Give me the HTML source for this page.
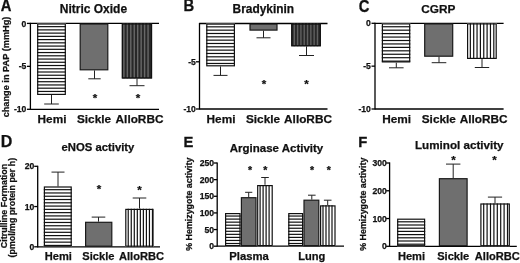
<!DOCTYPE html>
<html><head><meta charset="utf-8"><style>
html,body{margin:0;padding:0;background:#fff;}
body{width:520px;height:263px;overflow:hidden;}
svg{display:block;will-change:transform;filter:blur(0.3px);}
text{font-family:"Liberation Sans", sans-serif;fill:#111;stroke:#111;stroke-width:0.25px;}
</style></head><body>
<svg width="520" height="263" viewBox="0 0 520 263">
<rect width="520" height="263" fill="#fff"/>
<text transform="translate(0.7,11.3) scale(1,1.1)" font-size="14.8" font-weight="bold">A</text>
<text x="93.45" y="13.2" font-size="12.0" text-anchor="middle" font-weight="bold" >Nitric Oxide</text>
<line x1="30.4" y1="22.8" x2="30.4" y2="109.9" stroke="#000" stroke-width="1.3"/>
<line x1="30.4" y1="23.4" x2="159" y2="23.4" stroke="#000" stroke-width="1.3"/>
<line x1="30.4" y1="109.3" x2="159" y2="109.3" stroke="#000" stroke-width="1.3"/>
<line x1="26.9" y1="23.4" x2="30.4" y2="23.4" stroke="#000" stroke-width="1.3"/>
<text x="26.4" y="26.5" font-size="8.6" text-anchor="end" font-weight="bold" >0</text>
<line x1="26.9" y1="66.35" x2="30.4" y2="66.35" stroke="#000" stroke-width="1.3"/>
<text x="26.4" y="69.45" font-size="8.6" text-anchor="end" font-weight="bold" >-5</text>
<line x1="26.9" y1="109.3" x2="30.4" y2="109.3" stroke="#000" stroke-width="1.3"/>
<text x="26.4" y="112.4" font-size="8.6" text-anchor="end" font-weight="bold" >-10</text>
<rect x="37.1" y="23.4" width="28.800000000000004" height="71.6" fill="#fff"/>
<line x1="37.1" y1="26.64" x2="65.9" y2="26.64" stroke="#111" stroke-width="1.2"/>
<line x1="37.1" y1="29.88" x2="65.9" y2="29.88" stroke="#111" stroke-width="1.2"/>
<line x1="37.1" y1="33.12" x2="65.9" y2="33.12" stroke="#111" stroke-width="1.2"/>
<line x1="37.1" y1="36.36" x2="65.9" y2="36.36" stroke="#111" stroke-width="1.2"/>
<line x1="37.1" y1="39.6" x2="65.9" y2="39.6" stroke="#111" stroke-width="1.2"/>
<line x1="37.1" y1="42.84" x2="65.9" y2="42.84" stroke="#111" stroke-width="1.2"/>
<line x1="37.1" y1="46.08" x2="65.9" y2="46.08" stroke="#111" stroke-width="1.2"/>
<line x1="37.1" y1="49.32" x2="65.9" y2="49.32" stroke="#111" stroke-width="1.2"/>
<line x1="37.1" y1="52.56" x2="65.9" y2="52.56" stroke="#111" stroke-width="1.2"/>
<line x1="37.1" y1="55.8" x2="65.9" y2="55.8" stroke="#111" stroke-width="1.2"/>
<line x1="37.1" y1="59.04" x2="65.9" y2="59.04" stroke="#111" stroke-width="1.2"/>
<line x1="37.1" y1="62.28" x2="65.9" y2="62.28" stroke="#111" stroke-width="1.2"/>
<line x1="37.1" y1="65.52" x2="65.9" y2="65.52" stroke="#111" stroke-width="1.2"/>
<line x1="37.1" y1="68.76" x2="65.9" y2="68.76" stroke="#111" stroke-width="1.2"/>
<line x1="37.1" y1="72.0" x2="65.9" y2="72.0" stroke="#111" stroke-width="1.2"/>
<line x1="37.1" y1="75.24" x2="65.9" y2="75.24" stroke="#111" stroke-width="1.2"/>
<line x1="37.1" y1="78.48" x2="65.9" y2="78.48" stroke="#111" stroke-width="1.2"/>
<line x1="37.1" y1="81.72" x2="65.9" y2="81.72" stroke="#111" stroke-width="1.2"/>
<line x1="37.1" y1="84.96" x2="65.9" y2="84.96" stroke="#111" stroke-width="1.2"/>
<line x1="37.1" y1="88.2" x2="65.9" y2="88.2" stroke="#111" stroke-width="1.2"/>
<line x1="37.1" y1="91.44" x2="65.9" y2="91.44" stroke="#111" stroke-width="1.2"/>
<rect x="37.70" y="24.00" width="27.60" height="70.40" fill="none" stroke="#111" stroke-width="1.2"/>
<line x1="51.5" y1="95" x2="51.5" y2="104" stroke="#222" stroke-width="1.0"/>
<line x1="44.2" y1="104" x2="58.8" y2="104" stroke="#222" stroke-width="1.0"/>
<rect x="80.20" y="24.00" width="27.60" height="45.80" fill="#6f6f6f" stroke="#1a1a1a" stroke-width="1.2"/>
<line x1="94.5" y1="70.4" x2="94.5" y2="78.8" stroke="#222" stroke-width="1.0"/>
<line x1="88.3" y1="78.8" x2="100.7" y2="78.8" stroke="#222" stroke-width="1.0"/>
<rect x="121.8" y="23.4" width="30.299999999999997" height="55.1" fill="#282828"/>
<line x1="123.9" y1="23.4" x2="123.9" y2="78.5" stroke="#686868" stroke-width="1.4"/>
<line x1="127.35" y1="23.4" x2="127.35" y2="78.5" stroke="#686868" stroke-width="1.4"/>
<line x1="130.8" y1="23.4" x2="130.8" y2="78.5" stroke="#686868" stroke-width="1.4"/>
<line x1="134.25" y1="23.4" x2="134.25" y2="78.5" stroke="#686868" stroke-width="1.4"/>
<line x1="137.7" y1="23.4" x2="137.7" y2="78.5" stroke="#686868" stroke-width="1.4"/>
<line x1="141.15" y1="23.4" x2="141.15" y2="78.5" stroke="#686868" stroke-width="1.4"/>
<line x1="144.6" y1="23.4" x2="144.6" y2="78.5" stroke="#686868" stroke-width="1.4"/>
<line x1="148.05" y1="23.4" x2="148.05" y2="78.5" stroke="#686868" stroke-width="1.4"/>
<rect x="122.40" y="24.00" width="29.10" height="53.90" fill="none" stroke="#111" stroke-width="1.2"/>
<line x1="137" y1="78.5" x2="137" y2="85.7" stroke="#222" stroke-width="1.0"/>
<line x1="129.5" y1="85.7" x2="144.5" y2="85.7" stroke="#222" stroke-width="1.0"/>
<text x="95" y="102.03" font-size="11.5" text-anchor="middle" font-weight="bold" >*</text>
<text x="138.1" y="102.03" font-size="11.5" text-anchor="middle" font-weight="bold" >*</text>
<text x="52" y="122.6" font-size="11.8" text-anchor="middle" font-weight="bold" >Hemi</text>
<text x="94" y="122.6" font-size="11.8" text-anchor="middle" font-weight="bold" >Sickle</text>
<text x="139.5" y="122.6" font-size="11.8" text-anchor="middle" font-weight="bold" >AlloRBC</text>
<text transform="translate(8.5,67) rotate(-90)" font-size="9.2" text-anchor="middle" font-weight="bold">change in PAP (mmHg)</text>
<text transform="translate(183.4,11.3) scale(1,1.1)" font-size="14.8" font-weight="bold">B</text>
<text x="263.35" y="12.9" font-size="11.9" text-anchor="middle" font-weight="bold" >Bradykinin</text>
<line x1="199.5" y1="22.9" x2="199.5" y2="109.6" stroke="#000" stroke-width="1.3"/>
<line x1="199.5" y1="23.5" x2="327.5" y2="23.5" stroke="#000" stroke-width="1.3"/>
<line x1="199.5" y1="109" x2="327.5" y2="109" stroke="#000" stroke-width="1.3"/>
<line x1="196.0" y1="61.8" x2="199.5" y2="61.8" stroke="#000" stroke-width="1.3"/>
<text x="195.8" y="64.9" font-size="8.6" text-anchor="end" font-weight="bold" >-5</text>
<line x1="196.0" y1="109" x2="199.5" y2="109" stroke="#000" stroke-width="1.3"/>
<text x="195.8" y="112.1" font-size="8.6" text-anchor="end" font-weight="bold" >-10</text>
<rect x="206.2" y="23.5" width="28.80000000000001" height="42.900000000000006" fill="#fff"/>
<line x1="206.2" y1="26.83" x2="235" y2="26.83" stroke="#111" stroke-width="1.2"/>
<line x1="206.2" y1="30.16" x2="235" y2="30.16" stroke="#111" stroke-width="1.2"/>
<line x1="206.2" y1="33.49" x2="235" y2="33.49" stroke="#111" stroke-width="1.2"/>
<line x1="206.2" y1="36.82" x2="235" y2="36.82" stroke="#111" stroke-width="1.2"/>
<line x1="206.2" y1="40.15" x2="235" y2="40.15" stroke="#111" stroke-width="1.2"/>
<line x1="206.2" y1="43.48" x2="235" y2="43.48" stroke="#111" stroke-width="1.2"/>
<line x1="206.2" y1="46.81" x2="235" y2="46.81" stroke="#111" stroke-width="1.2"/>
<line x1="206.2" y1="50.14" x2="235" y2="50.14" stroke="#111" stroke-width="1.2"/>
<line x1="206.2" y1="53.47" x2="235" y2="53.47" stroke="#111" stroke-width="1.2"/>
<line x1="206.2" y1="56.8" x2="235" y2="56.8" stroke="#111" stroke-width="1.2"/>
<line x1="206.2" y1="60.13" x2="235" y2="60.13" stroke="#111" stroke-width="1.2"/>
<line x1="206.2" y1="63.46" x2="235" y2="63.46" stroke="#111" stroke-width="1.2"/>
<rect x="206.80" y="24.10" width="27.60" height="41.70" fill="none" stroke="#111" stroke-width="1.2"/>
<line x1="220.5" y1="66.4" x2="220.5" y2="75.4" stroke="#222" stroke-width="1.0"/>
<line x1="213.5" y1="75.4" x2="227.5" y2="75.4" stroke="#222" stroke-width="1.0"/>
<rect x="250.00" y="24.10" width="27.00" height="6.00" fill="#6f6f6f" stroke="#1a1a1a" stroke-width="1.2"/>
<line x1="263.5" y1="30.7" x2="263.5" y2="37.8" stroke="#222" stroke-width="1.0"/>
<line x1="256.5" y1="37.8" x2="270.5" y2="37.8" stroke="#222" stroke-width="1.0"/>
<rect x="291.2" y="23.5" width="29.69999999999999" height="22.799999999999997" fill="#282828"/>
<line x1="294.3" y1="23.5" x2="294.3" y2="46.3" stroke="#606060" stroke-width="1.4"/>
<line x1="297.61" y1="23.5" x2="297.61" y2="46.3" stroke="#606060" stroke-width="1.4"/>
<line x1="300.92" y1="23.5" x2="300.92" y2="46.3" stroke="#606060" stroke-width="1.4"/>
<line x1="304.23" y1="23.5" x2="304.23" y2="46.3" stroke="#606060" stroke-width="1.4"/>
<line x1="307.54" y1="23.5" x2="307.54" y2="46.3" stroke="#606060" stroke-width="1.4"/>
<line x1="310.85" y1="23.5" x2="310.85" y2="46.3" stroke="#606060" stroke-width="1.4"/>
<line x1="314.16" y1="23.5" x2="314.16" y2="46.3" stroke="#606060" stroke-width="1.4"/>
<line x1="317.47" y1="23.5" x2="317.47" y2="46.3" stroke="#606060" stroke-width="1.4"/>
<rect x="291.80" y="24.10" width="28.50" height="21.60" fill="none" stroke="#111" stroke-width="1.2"/>
<line x1="306.5" y1="46.3" x2="306.5" y2="55.5" stroke="#222" stroke-width="1.0"/>
<line x1="299.0" y1="55.5" x2="314.0" y2="55.5" stroke="#222" stroke-width="1.0"/>
<text x="264" y="88.08" font-size="11.5" text-anchor="middle" font-weight="bold" >*</text>
<text x="306.5" y="88.38" font-size="11.5" text-anchor="middle" font-weight="bold" >*</text>
<text x="221" y="122.6" font-size="11.8" text-anchor="middle" font-weight="bold" >Hemi</text>
<text x="263" y="122.6" font-size="11.8" text-anchor="middle" font-weight="bold" >Sickle</text>
<text x="308" y="122.6" font-size="11.8" text-anchor="middle" font-weight="bold" >AlloRBC</text>
<text transform="translate(358.7,11.5) scale(1,1.1)" font-size="14.8" font-weight="bold">C</text>
<text x="438.4" y="12.9" font-size="11.8" text-anchor="middle" font-weight="bold" >CGRP</text>
<line x1="375" y1="22.7" x2="375" y2="109.6" stroke="#000" stroke-width="1.3"/>
<line x1="375" y1="23.3" x2="503.6" y2="23.3" stroke="#000" stroke-width="1.3"/>
<line x1="375" y1="109" x2="503.6" y2="109" stroke="#000" stroke-width="1.3"/>
<line x1="371.5" y1="23.3" x2="375" y2="23.3" stroke="#000" stroke-width="1.3"/>
<text x="370.8" y="26.4" font-size="8.6" text-anchor="end" font-weight="bold" >0</text>
<line x1="371.5" y1="66.15" x2="375" y2="66.15" stroke="#000" stroke-width="1.3"/>
<text x="370.8" y="69.25" font-size="8.6" text-anchor="end" font-weight="bold" >-5</text>
<line x1="371.5" y1="109.0" x2="375" y2="109.0" stroke="#000" stroke-width="1.3"/>
<text x="370.8" y="112.1" font-size="8.6" text-anchor="end" font-weight="bold" >-10</text>
<rect x="381.8" y="23.3" width="28.5" height="39.2" fill="#fff"/>
<line x1="381.8" y1="26.74" x2="410.3" y2="26.74" stroke="#111" stroke-width="1.2"/>
<line x1="381.8" y1="30.18" x2="410.3" y2="30.18" stroke="#111" stroke-width="1.2"/>
<line x1="381.8" y1="33.62" x2="410.3" y2="33.62" stroke="#111" stroke-width="1.2"/>
<line x1="381.8" y1="37.06" x2="410.3" y2="37.06" stroke="#111" stroke-width="1.2"/>
<line x1="381.8" y1="40.5" x2="410.3" y2="40.5" stroke="#111" stroke-width="1.2"/>
<line x1="381.8" y1="43.94" x2="410.3" y2="43.94" stroke="#111" stroke-width="1.2"/>
<line x1="381.8" y1="47.38" x2="410.3" y2="47.38" stroke="#111" stroke-width="1.2"/>
<line x1="381.8" y1="50.82" x2="410.3" y2="50.82" stroke="#111" stroke-width="1.2"/>
<line x1="381.8" y1="54.26" x2="410.3" y2="54.26" stroke="#111" stroke-width="1.2"/>
<line x1="381.8" y1="57.7" x2="410.3" y2="57.7" stroke="#111" stroke-width="1.2"/>
<line x1="381.8" y1="61.14" x2="410.3" y2="61.14" stroke="#111" stroke-width="1.2"/>
<rect x="382.40" y="23.90" width="27.30" height="38.00" fill="none" stroke="#111" stroke-width="1.2"/>
<line x1="396.3" y1="62.7" x2="396.3" y2="67.8" stroke="#222" stroke-width="1.0"/>
<line x1="389.0" y1="67.8" x2="403.6" y2="67.8" stroke="#222" stroke-width="1.0"/>
<rect x="424.70" y="23.90" width="28.00" height="32.30" fill="#6f6f6f" stroke="#1a1a1a" stroke-width="1.2"/>
<line x1="439" y1="56.8" x2="439" y2="62.7" stroke="#222" stroke-width="1.0"/>
<line x1="431.7" y1="62.7" x2="446.3" y2="62.7" stroke="#222" stroke-width="1.0"/>
<rect x="467" y="23.3" width="29.80000000000001" height="35.7" fill="#fff"/>
<line x1="470.35" y1="23.3" x2="470.35" y2="59" stroke="#111" stroke-width="1.2"/>
<line x1="473.7" y1="23.3" x2="473.7" y2="59" stroke="#111" stroke-width="1.2"/>
<line x1="477.05" y1="23.3" x2="477.05" y2="59" stroke="#111" stroke-width="1.2"/>
<line x1="480.4" y1="23.3" x2="480.4" y2="59" stroke="#111" stroke-width="1.2"/>
<line x1="483.75" y1="23.3" x2="483.75" y2="59" stroke="#111" stroke-width="1.2"/>
<line x1="487.1" y1="23.3" x2="487.1" y2="59" stroke="#111" stroke-width="1.2"/>
<line x1="490.45" y1="23.3" x2="490.45" y2="59" stroke="#111" stroke-width="1.2"/>
<line x1="493.8" y1="23.3" x2="493.8" y2="59" stroke="#111" stroke-width="1.2"/>
<rect x="467.60" y="23.90" width="28.60" height="34.50" fill="none" stroke="#111" stroke-width="1.2"/>
<line x1="482" y1="59" x2="482" y2="67.5" stroke="#222" stroke-width="1.0"/>
<line x1="474.8" y1="67.5" x2="489.2" y2="67.5" stroke="#222" stroke-width="1.0"/>
<text x="396.7" y="122.6" font-size="11.8" text-anchor="middle" font-weight="bold" >Hemi</text>
<text x="438.8" y="122.6" font-size="11.8" text-anchor="middle" font-weight="bold" >Sickle</text>
<text x="483.6" y="122.6" font-size="11.8" text-anchor="middle" font-weight="bold" >AlloRBC</text>
<text transform="translate(0.7,146.8) scale(1,1.0)" font-size="16" font-weight="bold">D</text>
<text x="97.95" y="151" font-size="11.3" text-anchor="middle" font-weight="bold" >eNOS activity</text>
<line x1="37.7" y1="165.7" x2="37.7" y2="247.4" stroke="#000" stroke-width="1.3"/>
<line x1="37.7" y1="246.8" x2="160" y2="246.8" stroke="#000" stroke-width="1.3"/>
<line x1="34.2" y1="246.8" x2="37.7" y2="246.8" stroke="#000" stroke-width="1.3"/>
<text x="34.4" y="249.9" font-size="8.6" text-anchor="end" font-weight="bold" >0</text>
<line x1="34.2" y1="206.55" x2="37.7" y2="206.55" stroke="#000" stroke-width="1.3"/>
<text x="34.4" y="209.65" font-size="8.6" text-anchor="end" font-weight="bold" >10</text>
<line x1="34.2" y1="166.3" x2="37.7" y2="166.3" stroke="#000" stroke-width="1.3"/>
<text x="34.4" y="169.4" font-size="8.6" text-anchor="end" font-weight="bold" >20</text>
<rect x="43.8" y="186.4" width="28.0" height="60.400000000000006" fill="#fff"/>
<line x1="43.8" y1="189.68" x2="71.8" y2="189.68" stroke="#111" stroke-width="1.2"/>
<line x1="43.8" y1="192.96" x2="71.8" y2="192.96" stroke="#111" stroke-width="1.2"/>
<line x1="43.8" y1="196.24" x2="71.8" y2="196.24" stroke="#111" stroke-width="1.2"/>
<line x1="43.8" y1="199.52" x2="71.8" y2="199.52" stroke="#111" stroke-width="1.2"/>
<line x1="43.8" y1="202.8" x2="71.8" y2="202.8" stroke="#111" stroke-width="1.2"/>
<line x1="43.8" y1="206.08" x2="71.8" y2="206.08" stroke="#111" stroke-width="1.2"/>
<line x1="43.8" y1="209.36" x2="71.8" y2="209.36" stroke="#111" stroke-width="1.2"/>
<line x1="43.8" y1="212.64" x2="71.8" y2="212.64" stroke="#111" stroke-width="1.2"/>
<line x1="43.8" y1="215.92" x2="71.8" y2="215.92" stroke="#111" stroke-width="1.2"/>
<line x1="43.8" y1="219.2" x2="71.8" y2="219.2" stroke="#111" stroke-width="1.2"/>
<line x1="43.8" y1="222.48" x2="71.8" y2="222.48" stroke="#111" stroke-width="1.2"/>
<line x1="43.8" y1="225.76" x2="71.8" y2="225.76" stroke="#111" stroke-width="1.2"/>
<line x1="43.8" y1="229.04" x2="71.8" y2="229.04" stroke="#111" stroke-width="1.2"/>
<line x1="43.8" y1="232.32" x2="71.8" y2="232.32" stroke="#111" stroke-width="1.2"/>
<line x1="43.8" y1="235.6" x2="71.8" y2="235.6" stroke="#111" stroke-width="1.2"/>
<line x1="43.8" y1="238.88" x2="71.8" y2="238.88" stroke="#111" stroke-width="1.2"/>
<line x1="43.8" y1="242.16" x2="71.8" y2="242.16" stroke="#111" stroke-width="1.2"/>
<line x1="43.8" y1="245.44" x2="71.8" y2="245.44" stroke="#111" stroke-width="1.2"/>
<rect x="44.40" y="187.00" width="26.80" height="59.20" fill="none" stroke="#111" stroke-width="1.2"/>
<line x1="58" y1="186.5" x2="58" y2="172.1" stroke="#222" stroke-width="1.0"/>
<line x1="51.5" y1="172.1" x2="64.5" y2="172.1" stroke="#222" stroke-width="1.0"/>
<rect x="85.60" y="222.30" width="26.20" height="23.90" fill="#6f6f6f" stroke="#1a1a1a" stroke-width="1.2"/>
<line x1="98.5" y1="221.7" x2="98.5" y2="217.1" stroke="#222" stroke-width="1.0"/>
<line x1="91.7" y1="217.1" x2="105.3" y2="217.1" stroke="#222" stroke-width="1.0"/>
<rect x="125.2" y="208.8" width="28.39999999999999" height="38.0" fill="#fff"/>
<line x1="128.23" y1="208.8" x2="128.23" y2="246.8" stroke="#111" stroke-width="1.2"/>
<line x1="131.26" y1="208.8" x2="131.26" y2="246.8" stroke="#111" stroke-width="1.2"/>
<line x1="134.29" y1="208.8" x2="134.29" y2="246.8" stroke="#111" stroke-width="1.2"/>
<line x1="137.32" y1="208.8" x2="137.32" y2="246.8" stroke="#111" stroke-width="1.2"/>
<line x1="140.35" y1="208.8" x2="140.35" y2="246.8" stroke="#111" stroke-width="1.2"/>
<line x1="143.38" y1="208.8" x2="143.38" y2="246.8" stroke="#111" stroke-width="1.2"/>
<line x1="146.41" y1="208.8" x2="146.41" y2="246.8" stroke="#111" stroke-width="1.2"/>
<line x1="149.44" y1="208.8" x2="149.44" y2="246.8" stroke="#111" stroke-width="1.2"/>
<line x1="152.47" y1="208.8" x2="152.47" y2="246.8" stroke="#111" stroke-width="1.2"/>
<rect x="125.80" y="209.40" width="27.20" height="36.80" fill="none" stroke="#111" stroke-width="1.2"/>
<line x1="139.5" y1="208.6" x2="139.5" y2="198" stroke="#222" stroke-width="1.0"/>
<line x1="132.7" y1="198" x2="146.3" y2="198" stroke="#222" stroke-width="1.0"/>
<text x="99" y="192.98" font-size="11.5" text-anchor="middle" font-weight="bold" >*</text>
<text x="139.4" y="193.98" font-size="11.5" text-anchor="middle" font-weight="bold" >*</text>
<text x="58.3" y="260.3" font-size="11.1" text-anchor="middle" font-weight="bold" >Hemi</text>
<text x="98.4" y="260.3" font-size="11.1" text-anchor="middle" font-weight="bold" >Sickle</text>
<text x="141.5" y="260.3" font-size="11.1" text-anchor="middle" font-weight="bold" >AlloRBC</text>
<text transform="translate(7.3,206) rotate(-90)" font-size="8.9" text-anchor="middle" font-weight="bold">Citrulline Formation</text>
<text transform="translate(15.3,207.7) rotate(-90)" font-size="8.9" text-anchor="middle" font-weight="bold">(pmol/mg protein per h)</text>
<text transform="translate(183.4,146.8) scale(1,1.03)" font-size="14.8" font-weight="bold">E</text>
<text x="276.5" y="151.8" font-size="11.5" text-anchor="middle" font-weight="bold" >Arginase Activity</text>
<line x1="217.2" y1="162.4" x2="217.2" y2="246.8" stroke="#000" stroke-width="1.3"/>
<line x1="217.2" y1="246.2" x2="344" y2="246.2" stroke="#000" stroke-width="1.3"/>
<line x1="213.7" y1="246.2" x2="217.2" y2="246.2" stroke="#000" stroke-width="1.3"/>
<text x="214" y="249.3" font-size="8.6" text-anchor="end" font-weight="bold" >0</text>
<line x1="213.7" y1="229.56" x2="217.2" y2="229.56" stroke="#000" stroke-width="1.3"/>
<text x="214" y="232.66" font-size="8.6" text-anchor="end" font-weight="bold" >50</text>
<line x1="213.7" y1="212.92" x2="217.2" y2="212.92" stroke="#000" stroke-width="1.3"/>
<text x="214" y="216.02" font-size="8.6" text-anchor="end" font-weight="bold" >100</text>
<line x1="213.7" y1="196.28" x2="217.2" y2="196.28" stroke="#000" stroke-width="1.3"/>
<text x="214" y="199.38" font-size="8.6" text-anchor="end" font-weight="bold" >150</text>
<line x1="213.7" y1="179.64" x2="217.2" y2="179.64" stroke="#000" stroke-width="1.3"/>
<text x="214" y="182.74" font-size="8.6" text-anchor="end" font-weight="bold" >200</text>
<line x1="213.7" y1="163.0" x2="217.2" y2="163.0" stroke="#000" stroke-width="1.3"/>
<text x="214" y="166.1" font-size="8.6" text-anchor="end" font-weight="bold" >250</text>
<rect x="225" y="213" width="15.599999999999994" height="33.19999999999999" fill="#fff"/>
<line x1="225" y1="216.05" x2="240.6" y2="216.05" stroke="#111" stroke-width="1.2"/>
<line x1="225" y1="219.1" x2="240.6" y2="219.1" stroke="#111" stroke-width="1.2"/>
<line x1="225" y1="222.15" x2="240.6" y2="222.15" stroke="#111" stroke-width="1.2"/>
<line x1="225" y1="225.2" x2="240.6" y2="225.2" stroke="#111" stroke-width="1.2"/>
<line x1="225" y1="228.25" x2="240.6" y2="228.25" stroke="#111" stroke-width="1.2"/>
<line x1="225" y1="231.3" x2="240.6" y2="231.3" stroke="#111" stroke-width="1.2"/>
<line x1="225" y1="234.35" x2="240.6" y2="234.35" stroke="#111" stroke-width="1.2"/>
<line x1="225" y1="237.4" x2="240.6" y2="237.4" stroke="#111" stroke-width="1.2"/>
<line x1="225" y1="240.45" x2="240.6" y2="240.45" stroke="#111" stroke-width="1.2"/>
<line x1="225" y1="243.5" x2="240.6" y2="243.5" stroke="#111" stroke-width="1.2"/>
<rect x="225.60" y="213.60" width="14.40" height="32.00" fill="none" stroke="#111" stroke-width="1.2"/>
<rect x="241.40" y="197.70" width="14.60" height="47.90" fill="#6f6f6f" stroke="#1a1a1a" stroke-width="1.2"/>
<line x1="248.7" y1="197.1" x2="248.7" y2="192.3" stroke="#222" stroke-width="1.0"/>
<line x1="245.1" y1="192.3" x2="252.3" y2="192.3" stroke="#222" stroke-width="1.0"/>
<rect x="257.1" y="185" width="15.699999999999989" height="61.19999999999999" fill="#fff"/>
<line x1="260.1" y1="185" x2="260.1" y2="246.2" stroke="#111" stroke-width="1.2"/>
<line x1="263.1" y1="185" x2="263.1" y2="246.2" stroke="#111" stroke-width="1.2"/>
<line x1="266.1" y1="185" x2="266.1" y2="246.2" stroke="#111" stroke-width="1.2"/>
<line x1="269.1" y1="185" x2="269.1" y2="246.2" stroke="#111" stroke-width="1.2"/>
<rect x="257.70" y="185.60" width="14.50" height="60.00" fill="none" stroke="#111" stroke-width="1.2"/>
<line x1="265" y1="184.8" x2="265" y2="177.5" stroke="#222" stroke-width="1.0"/>
<line x1="261.2" y1="177.5" x2="268.8" y2="177.5" stroke="#222" stroke-width="1.0"/>
<rect x="288.2" y="213" width="15.0" height="33.19999999999999" fill="#fff"/>
<line x1="288.2" y1="216.05" x2="303.2" y2="216.05" stroke="#111" stroke-width="1.2"/>
<line x1="288.2" y1="219.1" x2="303.2" y2="219.1" stroke="#111" stroke-width="1.2"/>
<line x1="288.2" y1="222.15" x2="303.2" y2="222.15" stroke="#111" stroke-width="1.2"/>
<line x1="288.2" y1="225.2" x2="303.2" y2="225.2" stroke="#111" stroke-width="1.2"/>
<line x1="288.2" y1="228.25" x2="303.2" y2="228.25" stroke="#111" stroke-width="1.2"/>
<line x1="288.2" y1="231.3" x2="303.2" y2="231.3" stroke="#111" stroke-width="1.2"/>
<line x1="288.2" y1="234.35" x2="303.2" y2="234.35" stroke="#111" stroke-width="1.2"/>
<line x1="288.2" y1="237.4" x2="303.2" y2="237.4" stroke="#111" stroke-width="1.2"/>
<line x1="288.2" y1="240.45" x2="303.2" y2="240.45" stroke="#111" stroke-width="1.2"/>
<line x1="288.2" y1="243.5" x2="303.2" y2="243.5" stroke="#111" stroke-width="1.2"/>
<rect x="288.80" y="213.60" width="13.80" height="32.00" fill="none" stroke="#111" stroke-width="1.2"/>
<rect x="304.00" y="200.20" width="14.80" height="45.40" fill="#6f6f6f" stroke="#1a1a1a" stroke-width="1.2"/>
<line x1="311.8" y1="199.6" x2="311.8" y2="195.2" stroke="#222" stroke-width="1.0"/>
<line x1="308.0" y1="195.2" x2="315.6" y2="195.2" stroke="#222" stroke-width="1.0"/>
<rect x="320" y="205.3" width="15.600000000000023" height="40.89999999999998" fill="#fff"/>
<line x1="323.0" y1="205.3" x2="323.0" y2="246.2" stroke="#111" stroke-width="1.2"/>
<line x1="326.0" y1="205.3" x2="326.0" y2="246.2" stroke="#111" stroke-width="1.2"/>
<line x1="329.0" y1="205.3" x2="329.0" y2="246.2" stroke="#111" stroke-width="1.2"/>
<line x1="332.0" y1="205.3" x2="332.0" y2="246.2" stroke="#111" stroke-width="1.2"/>
<rect x="320.60" y="205.90" width="14.40" height="39.70" fill="none" stroke="#111" stroke-width="1.2"/>
<line x1="327.7" y1="205.3" x2="327.7" y2="200.2" stroke="#222" stroke-width="1.0"/>
<line x1="323.9" y1="200.2" x2="331.5" y2="200.2" stroke="#222" stroke-width="1.0"/>
<text x="250" y="173.68" font-size="10.5" text-anchor="middle" font-weight="bold" >*</text>
<text x="265.4" y="173.68" font-size="10.5" text-anchor="middle" font-weight="bold" >*</text>
<text x="312.1" y="173.68" font-size="10.5" text-anchor="middle" font-weight="bold" >*</text>
<text x="328.8" y="173.68" font-size="10.5" text-anchor="middle" font-weight="bold" >*</text>
<text x="249" y="260" font-size="11.3" text-anchor="middle" font-weight="bold" >Plasma</text>
<text x="311.8" y="260" font-size="11.1" text-anchor="middle" font-weight="bold" >Lung</text>
<text transform="translate(191.5,204.2) rotate(-90)" font-size="8.9" text-anchor="middle" font-weight="bold">% Hemizygote activity</text>
<text transform="translate(358.2,146.9) scale(1,1.03)" font-size="14.8" font-weight="bold">F</text>
<text x="459.3" y="149.4" font-size="11.65" text-anchor="middle" font-weight="bold" >Luminol activity</text>
<line x1="389.6" y1="162.4" x2="389.6" y2="246.9" stroke="#000" stroke-width="1.3"/>
<line x1="389.6" y1="246.3" x2="516.8" y2="246.3" stroke="#000" stroke-width="1.3"/>
<line x1="386.1" y1="246.3" x2="389.6" y2="246.3" stroke="#000" stroke-width="1.3"/>
<text x="386.8" y="249.4" font-size="8.6" text-anchor="end" font-weight="bold" >0</text>
<line x1="386.1" y1="218.53" x2="389.6" y2="218.53" stroke="#000" stroke-width="1.3"/>
<text x="386.8" y="221.63" font-size="8.6" text-anchor="end" font-weight="bold" >100</text>
<line x1="386.1" y1="190.77" x2="389.6" y2="190.77" stroke="#000" stroke-width="1.3"/>
<text x="386.8" y="193.87" font-size="8.6" text-anchor="end" font-weight="bold" >200</text>
<line x1="386.1" y1="163.0" x2="389.6" y2="163.0" stroke="#000" stroke-width="1.3"/>
<text x="386.8" y="166.1" font-size="8.6" text-anchor="end" font-weight="bold" >300</text>
<rect x="397.1" y="218.6" width="28.099999999999966" height="27.700000000000017" fill="#fff"/>
<line x1="397.1" y1="221.8" x2="425.2" y2="221.8" stroke="#111" stroke-width="1.2"/>
<line x1="397.1" y1="225.0" x2="425.2" y2="225.0" stroke="#111" stroke-width="1.2"/>
<line x1="397.1" y1="228.2" x2="425.2" y2="228.2" stroke="#111" stroke-width="1.2"/>
<line x1="397.1" y1="231.4" x2="425.2" y2="231.4" stroke="#111" stroke-width="1.2"/>
<line x1="397.1" y1="234.6" x2="425.2" y2="234.6" stroke="#111" stroke-width="1.2"/>
<line x1="397.1" y1="237.8" x2="425.2" y2="237.8" stroke="#111" stroke-width="1.2"/>
<line x1="397.1" y1="241.0" x2="425.2" y2="241.0" stroke="#111" stroke-width="1.2"/>
<line x1="397.1" y1="244.2" x2="425.2" y2="244.2" stroke="#111" stroke-width="1.2"/>
<rect x="397.70" y="219.20" width="26.90" height="26.50" fill="none" stroke="#111" stroke-width="1.2"/>
<rect x="439.40" y="178.70" width="27.70" height="67.00" fill="#6f6f6f" stroke="#1a1a1a" stroke-width="1.2"/>
<line x1="453.2" y1="178.1" x2="453.2" y2="164.1" stroke="#222" stroke-width="1.0"/>
<line x1="446.0" y1="164.1" x2="460.4" y2="164.1" stroke="#222" stroke-width="1.0"/>
<rect x="480.3" y="203.4" width="29.599999999999966" height="42.900000000000006" fill="#fff"/>
<line x1="483.7" y1="203.4" x2="483.7" y2="246.3" stroke="#111" stroke-width="1.2"/>
<line x1="487.1" y1="203.4" x2="487.1" y2="246.3" stroke="#111" stroke-width="1.2"/>
<line x1="490.5" y1="203.4" x2="490.5" y2="246.3" stroke="#111" stroke-width="1.2"/>
<line x1="493.9" y1="203.4" x2="493.9" y2="246.3" stroke="#111" stroke-width="1.2"/>
<line x1="497.3" y1="203.4" x2="497.3" y2="246.3" stroke="#111" stroke-width="1.2"/>
<line x1="500.7" y1="203.4" x2="500.7" y2="246.3" stroke="#111" stroke-width="1.2"/>
<line x1="504.1" y1="203.4" x2="504.1" y2="246.3" stroke="#111" stroke-width="1.2"/>
<line x1="507.5" y1="203.4" x2="507.5" y2="246.3" stroke="#111" stroke-width="1.2"/>
<rect x="480.90" y="204.00" width="28.40" height="41.70" fill="none" stroke="#111" stroke-width="1.2"/>
<line x1="495" y1="203.4" x2="495" y2="197.1" stroke="#222" stroke-width="1.0"/>
<line x1="487.9" y1="197.1" x2="502.1" y2="197.1" stroke="#222" stroke-width="1.0"/>
<text x="453.4" y="163.78" font-size="11.5" text-anchor="middle" font-weight="bold" >*</text>
<text x="494.4" y="163.78" font-size="11.5" text-anchor="middle" font-weight="bold" >*</text>
<text x="411.5" y="260.1" font-size="11.1" text-anchor="middle" font-weight="bold" >Hemi</text>
<text x="453.2" y="260.1" font-size="11.1" text-anchor="middle" font-weight="bold" >Sickle</text>
<text x="497.3" y="260.1" font-size="11.1" text-anchor="middle" font-weight="bold" >AlloRBC</text>
<text transform="translate(366,204.2) rotate(-90)" font-size="8.9" text-anchor="middle" font-weight="bold">% Hemizygote activity</text>
</svg>
</body></html>
